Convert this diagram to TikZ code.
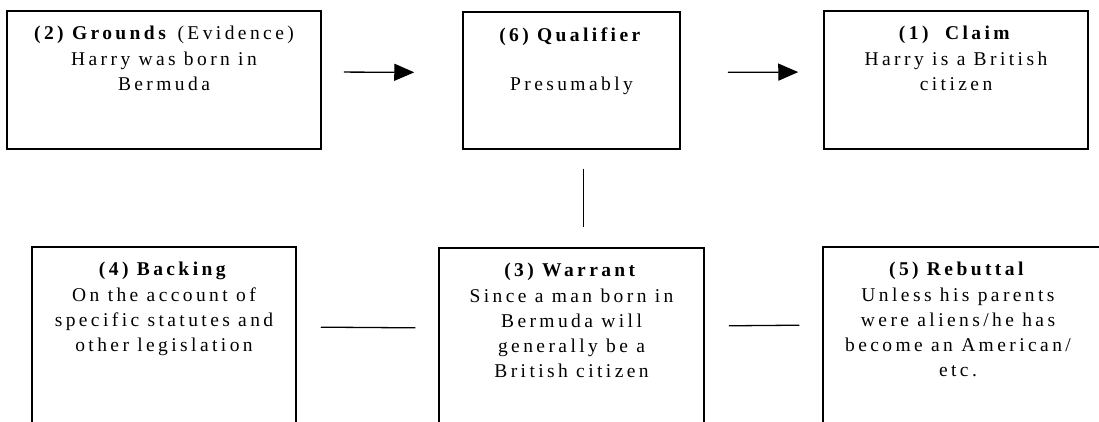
\documentclass[tikz,border=0pt]{standalone}
\usepackage{fontspec}
\setmainfont{Liberation Serif}[LetterSpace=17.5]
\usetikzlibrary{arrows.meta,calc}
\tikzset{
  boxx/.style={draw, line width=1.5pt, rectangle, inner sep=0pt},
  txt/.style={anchor=north, align=center, inner sep=0pt, yshift=-16pt,
    font=\fontsize{19.5}{25.2}\selectfont},
  conn/.style={line width=1.3pt},
  arr/.style={line width=1.3pt, -{Triangle[length=20pt,width=17pt]}}
}
\begin{document}
\begin{tikzpicture}[x=1pt,y=-1pt]
\useasboundingbox (0,0) rectangle (1099,422);
\clip (0,0) rectangle (1099,422);
% top row
\node[boxx, minimum width=314pt, minimum height=138pt] (g) at (164,80) {};
\node[boxx, minimum width=217pt, minimum height=137pt] (q) at (571.5,80.5) {};
\node[boxx, minimum width=264pt, minimum height=138pt] (c) at (956,80) {};
% bottom row (open at the bottom)
\node[boxx, minimum width=264pt, minimum height=200pt] (b) at (164,347) {};
\node[boxx, minimum width=265pt, minimum height=200pt] (w) at (571.5,348) {};
\node[boxx, minimum width=280pt, minimum height=200pt] (r) at (963,347) {};
% texts
\node[txt] (gt) at (g.north) {\textbf{(2) Grounds} (Evidence)\\Harry was born in\\Bermuda};
\node[txt] (qt) at (q.north) {\textbf{(6) Qualifier}\\[23.8pt]Presumably};
\node[txt] (ct) at (c.north) {\textbf{(1)\ \ Claim}\\Harry is a British\\citizen};
\node[txt] (bt) at (b.north) {\textbf{(4) Backing}\\On the account of\\specific statutes and\\other legislation};
\node[txt] (wt) at (w.north) {\textbf{(3) Warrant}\\Since a man born in\\Bermuda will\\generally be a\\British citizen};
\node[txt] (rt) at ([xshift=-5pt]r.north) {\textbf{(5) Rebuttal}\\Unless his parents\\were aliens/he has\\become an American/\\etc.};
% connectors
\draw[arr, shorten <=22pt, shorten >=48pt] ([yshift=8pt]g.east) -- ([yshift=8pt]q.west);
\draw[arr, shorten <=47pt, shorten >=25pt] ([yshift=8pt]q.east) -- ([yshift=8pt]c.west);
\draw[conn, shorten <=19pt, shorten >=20pt] ([xshift=12pt]q.south) -- ([xshift=12pt]w.north);
\draw[conn, shorten <=24pt, shorten >=23pt] ([yshift=20pt]b.east) -- ([yshift=20pt]w.west);
\draw[conn, shorten <=24pt, shorten >=23pt] ([yshift=22pt]w.east) -- ([yshift=22pt]r.west);
\end{tikzpicture}
\end{document}
